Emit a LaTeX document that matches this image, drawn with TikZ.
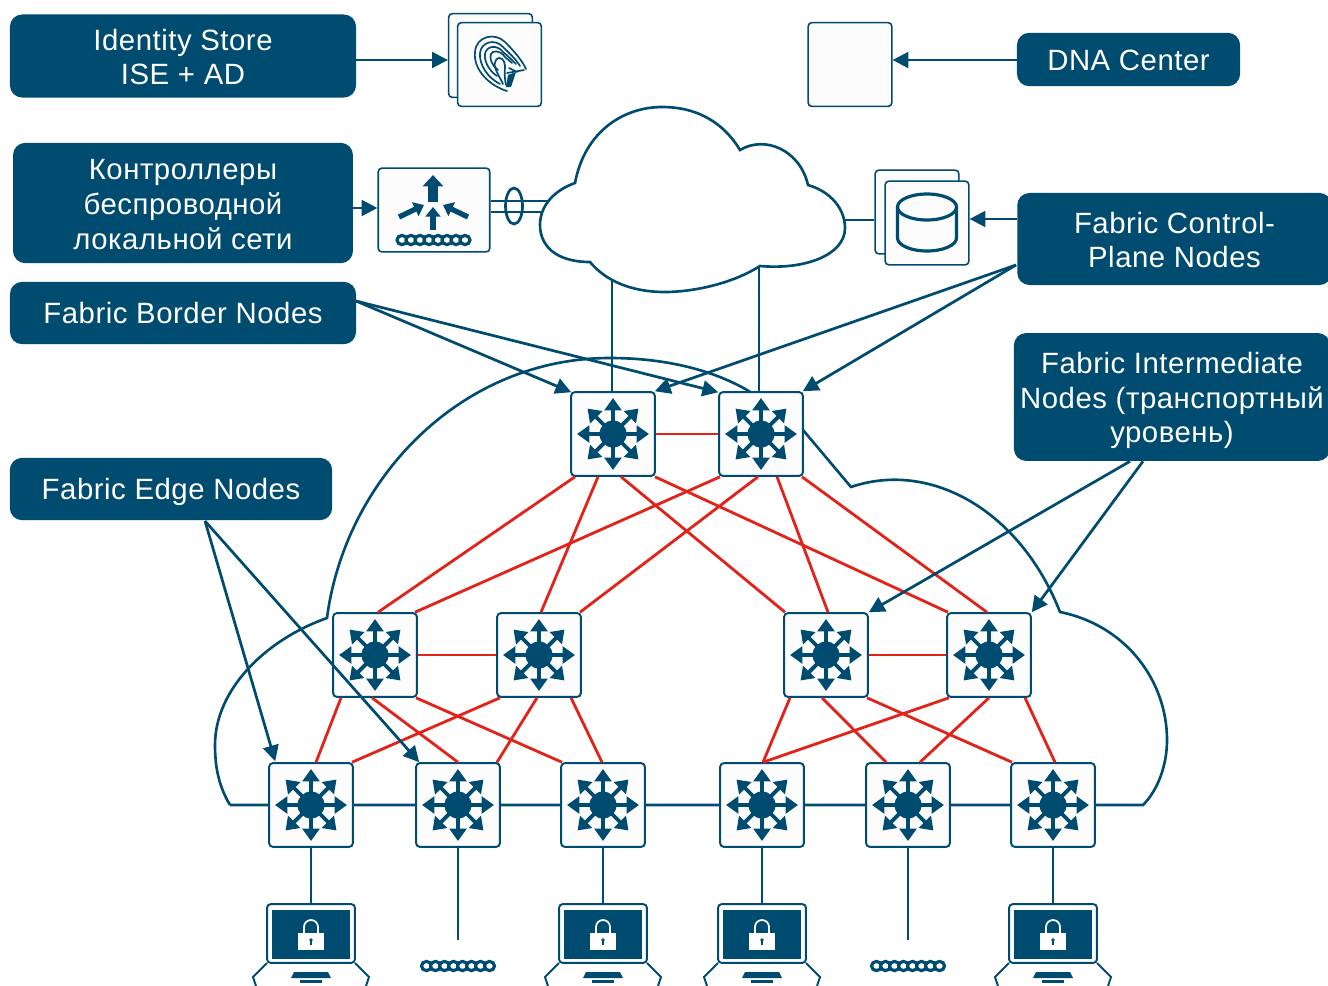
\documentclass[tikz,border=0pt]{standalone}
\usepackage{fontspec}
\setmainfont[LetterSpace=1.8]{Liberation Sans}
\usetikzlibrary{arrows.meta,calc}
\definecolor{navy}{HTML}{004B70}
\definecolor{rd}{HTML}{E2231A}
\definecolor{card}{HTML}{FCFCFC}
\tikzset{
  x=0.02cm,y=-0.02cm,
  lab/.style={fill=navy,rounded corners=7pt,text=white,align=center,font=\fontsize{16.7}{19.8}\selectfont,inner sep=0pt,minimum width=#1},
  oneline/.style={text height=12pt,text depth=0pt},
  swbox/.style={draw=navy,fill=card,line width=1.1pt,rounded corners=2pt,minimum size=47.6pt,inner sep=0pt},
  cardbox/.style={draw=navy,fill=card,line width=0.9pt,rounded corners=2pt,inner sep=0pt},
  blue/.style={draw=navy,line width=1.55pt},
  redl/.style={draw=rd,line width=1.6pt},
  arr/.style={blue,-{Triangle[length=9pt,width=9pt]}},
  iconarr/.style={draw=navy,line width=2.2pt,-{Triangle[length=7pt,width=9.5pt]}},
  cloudl/.style={draw=navy,line width=1.5pt,line join=miter},
  fp/.style={draw=navy,line width=0.95pt,line cap=round},
}
\newcommand\sw[3]{%
  \node[swbox] (#1) at (#2,#3) {};
  \fill[navy] (#1.center) circle[radius=13.5];
  \foreach \a in {0,45,...,315} {\draw[iconarr] (#1.center) -- ++(\a:36);}
}
\newcommand\So[2]{($(#1.south)+(#2,0)$)}
\newcommand\No[2]{($(#1.north)+(#2,0)$)}
\newcommand\chain[2]{%
  \foreach \i in {0,...,7} {\draw[navy,line width=1.8pt,fill=white] ({#1-31.5+9*\i},#2) circle[x radius=5,y radius=4.6];}
}
\newcommand\laptop[2]{%
  \node[draw=navy,fill=white,line width=1.1pt,rounded corners=2pt,minimum width=50pt,minimum height=33.4pt,inner sep=0pt] (#1) at (#2,933.5) {};
  \begin{scope}[shift={(#2,0)}]
    \fill[navy] (-39,910) rectangle (39,958.5);
    \fill[white] (-13,933) rectangle (13,950);
    \draw[white,line width=1pt] (-7,933) -- (-7,927) arc[start angle=180,end angle=360,radius=7] -- (7,933);
    \fill[navy] (0,940) circle[radius=1.8];
    \fill[navy] (-0.8,940) rectangle (0.8,945);
    \draw[navy,line width=1.1pt] (-44,963) -- (-58,977) -- (-55,986);
    \draw[navy,line width=1.1pt] (44,963) -- (58,977) -- (55,986);
    \fill[navy] (-17,972) -- (17,972) -- (20,978) -- (-20,978) -- cycle;
    \fill[navy] (-11,979.5) rectangle (11,983);
  \end{scope}
}
\begin{document}
\begin{tikzpicture}
\useasboundingbox (0,0) rectangle (1328,985);
\clip (0,0) rectangle (1328,985);
\fill[white] (0,0) rectangle (1328,985);

% big cloud
\draw[cloudl] (230,805) .. controls (218,785) and (215,765) .. (215,745)
  .. controls (215,690) and (265,640) .. (327,618)
  .. controls (345,480) and (460,358) .. (610,358)
  .. controls (665,358) and (715,370) .. (752,393)
  -- (803,430) -- (851,487)
  .. controls (930,460) and (1020,510) .. (1060,612)
  .. controls (1125,625) and (1167,680) .. (1167,740)
  .. controls (1167,765) and (1158,790) .. (1143,805) -- (230,805);

% links behind the top cloud
\coordinate (wlcA) at (550,201); \coordinate (wlcB) at (550,212);
\coordinate (cloudE) at (840,220);
\coordinate (cloudA) at (612,275); \coordinate (cloudB) at (759,262);

% switches
\sw{t1}{613}{434}\sw{t2}{761}{434}
\sw{m1}{375}{655}\sw{m2}{539}{655}\sw{m3}{826}{655}\sw{m4}{989}{655}
\sw{b1}{311}{805}\sw{b2}{458}{805}\sw{b3}{603}{805}\sw{b4}{762}{805}\sw{b5}{908}{805}\sw{b6}{1053}{805}

% cards
\node[cardbox,minimum size=47.6pt] (idb) at (490.5,55.5) {};
\node[cardbox,minimum size=47.6pt] (id) at (499.5,64.5) {};
\node[cardbox,minimum size=47.6pt] (dna) at (850,64.5) {};
\node[cardbox,minimum size=47.6pt] (dbb) at (917,212) {};
\node[cardbox,minimum size=47.6pt] (db) at (927,223) {};
\node[cardbox,minimum width=63.5pt,minimum height=47.6pt] (wlc) at (434,210) {};

% fingerprint
\draw[fp] (507,91) .. controls (490,86) and (473,70) .. (475,52) .. controls (476,36) and (495,32) .. (505,42) .. controls (513,50) and (522,60) .. (526,69);
\draw[fp] (500,84) .. controls (488,78) and (479,65) .. (480,53) .. controls (481,42) and (495,38) .. (503,47) .. controls (510,54) and (515,58) .. (520,66);
\draw[fp] (497,76) .. controls (488,70) and (484,60) .. (485,54) .. controls (486,46) and (497,44) .. (503,52) .. controls (508,56) and (512,60) .. (516,64);
\draw[fp] (498,70) .. controls (492,66) and (489,58) .. (491,54) .. controls (493,50) and (500,50) .. (505,57) .. controls (507,59) and (510,61) .. (512,63);
\draw[fp] (503,84) .. controls (497,72) and (492,65) .. (496,60) .. controls (500,55) and (505,60) .. (505,66) .. controls (505,70) and (504,76) .. (506,85);
\draw[fp] (509,68) -- (517,72) (507,73) -- (524,70);
\fill[navy] (508,75) -- (516,72) -- (511,87) -- (506,87) -- cycle;

% db cylinder
\draw[navy,line width=1.8pt] (897.5,207) -- (897.5,238) arc[start angle=180,end angle=0,x radius=29.5,y radius=13] -- (956.5,207);
\draw[navy,line width=1.8pt] (927,207) circle[x radius=29.5,y radius=13];

% wlc icon
\draw[navy,line width=5.5pt,-{Triangle[length=6.5pt,width=11.5pt]}] (433,202) -- (433,175);
\draw[iconarr,line width=3pt,-{Triangle[length=5.5pt,width=8.5pt]}] (433,230) -- (433,207);
\draw[iconarr,line width=3pt,-{Triangle[length=5.5pt,width=8.5pt]}] (399,217) -- (424,205);
\draw[iconarr,line width=3pt,-{Triangle[length=5.5pt,width=8.5pt]}] (468,217) -- (443,205);
\chain{433.5}{240}

% wlc links + cloud
\draw[blue] (wlc.east |- wlcA) -- (wlcA);
\draw[blue] (wlc.east |- wlcB) -- (wlcB);
\draw[blue] (514,206) circle[x radius=8.5,y radius=18];
\draw[blue] (dbb.west |- cloudE) -- (cloudE);
\draw[blue] (t1.north -| cloudA) -- (cloudA);
\draw[blue] (t2.north -| cloudB) -- (cloudB);
\draw[cloudl,fill=white] (575,183) .. controls (585,130) and (625,107) .. (662,107)
  .. controls (700,107) and (725,125) .. (740,150)
  .. controls (765,135) and (800,150) .. (808,185)
  .. controls (832,192) and (845,210) .. (845,228)
  .. controls (845,255) and (805,270) .. (760,266)
  .. controls (730,285) and (690,292) .. (665,292)
  .. controls (630,292) and (605,280) .. (590,262)
  .. controls (555,262) and (540,245) .. (540,225)
  .. controls (540,205) and (555,190) .. (575,183) -- cycle;

% red links
\draw[redl] (t1) -- (t2) (m1) -- (m2) (m3) -- (m4);
\begin{scope}[every path/.style={redl}]
\path \So{t1}{-38} -- \No{m1}{3};
\path \So{t1}{-15} -- \No{m2}{2};
\path \So{t1}{8} -- \No{m3}{-41};
\path \So{t1}{42} -- \No{m4}{-41};
\path \So{t2}{-41} -- \No{m1}{40};
\path \So{t2}{-3} -- \No{m2}{41};
\path \So{t2}{16} -- \No{m3}{2};
\path \So{t2}{41} -- \No{m4}{-2};
\path \So{m1}{-34} -- \No{b1}{5};
\path \So{m1}{-3} -- \No{b2}{0};
\path \So{m1}{41} -- \No{b3}{-41};
\path \So{m2}{-39} -- \No{b1}{41};
\path \So{m2}{-2} -- \No{b2}{39};
\path \So{m2}{32} -- \No{b3}{-1};
\path \So{m3}{-36} -- \No{b4}{1};
\path \So{m3}{-4} -- \No{b5}{-22};
\path \So{m3}{41} -- \No{b6}{-41};
\path \So{m4}{-40} -- \No{b4}{1};
\path \So{m4}{0} -- \No{b5}{12};
\path \So{m4}{36} -- \No{b6}{2};
\end{scope}

% laptops and sensors
\laptop{l1}{311}\laptop{l3}{603}\laptop{l4}{762}\laptop{l6}{1053}
\coordinate (s2) at (458,940); \coordinate (s5) at (908,940);
\chain{458}{966}\chain{908}{966}
\draw[blue] (b1.south) -- (l1.north); \draw[blue] (b3.south) -- (l3.north); \draw[blue] (b4.south) -- (l4.north); \draw[blue] (b6.south) -- (l6.north);
\draw[blue] (b2.south) -- (s2); \draw[blue] (b5.south) -- (s5);

% labels
\node[lab=197pt,minimum height=47.3pt] (Lid) at (183,56) {\rule{0pt}{13.2pt}Identity Store\\ISE + AD};
\node[lab=127pt,minimum height=30.4pt,oneline] (Ldna) at (1128.5,59.5) {DNA Center};
\node[lab=193.5pt,minimum height=68.5pt] (Lwlc) at (183,203) {\rule{0pt}{13.2pt}Контроллеры\\беспроводной\\локальной сети};
\node[lab=179pt,minimum height=52.4pt] (Lcp) at (1174.5,239) {\rule{0pt}{13.2pt}Fabric Control-\\Plane Nodes};
\node[lab=197pt,minimum height=35.5pt,oneline] (Lbr) at (183,313) {Fabric Border Nodes};
\node[lab=180pt,minimum height=72.8pt] (Lin) at (1172,397) {\rule{0pt}{16pt}Fabric Intermediate\\Nodes (транспортный\\уровень)};
\node[lab=183.5pt,minimum height=35.5pt,oneline] (Led) at (171,489) {Fabric Edge Nodes};

% arrows
\coordinate (yid) at (0,60); \coordinate (yw) at (0,208); \coordinate (ydb) at (0,219);
\draw[arr] (Lid.east |- yid) -- (idb.west |- yid);
\draw[arr] (Ldna.west |- yid) -- (dna.east |- yid);
\draw[arr] (Lwlc.east |- yw) -- (wlc.west |- yw);
\draw[arr] (Lcp.west |- ydb) -- (db.east |- ydb);
\coordinate (cpc) at (1016,265); \coordinate (brc) at (356,301);
\coordinate (ed) at (205,521);
\draw[arr] (cpc) -- ($(t1.north east)+(-1,0)$);
\draw[arr] (cpc) -- ($(t2.north east)+(-1,0)$);
\draw[arr] (brc) -- ($(t1.north west)+(1,1)$);
\draw[arr] (brc) -- ($(t2.north west)+(0,1)$);
\draw[arr] ($(Lin.south)+(-42,0)$) -- ($(m3.north east)+(0,0)$);
\draw[arr] ($(Lin.south)+(-29,0)$) -- ($(m4.north east)+(0,0)$);
\draw[arr] (ed) -- ($(b1.north west)+(7,-1)$);
\draw[arr] (ed) -- ($(b2.north west)+(4,0)$);
\end{tikzpicture}
\end{document}
